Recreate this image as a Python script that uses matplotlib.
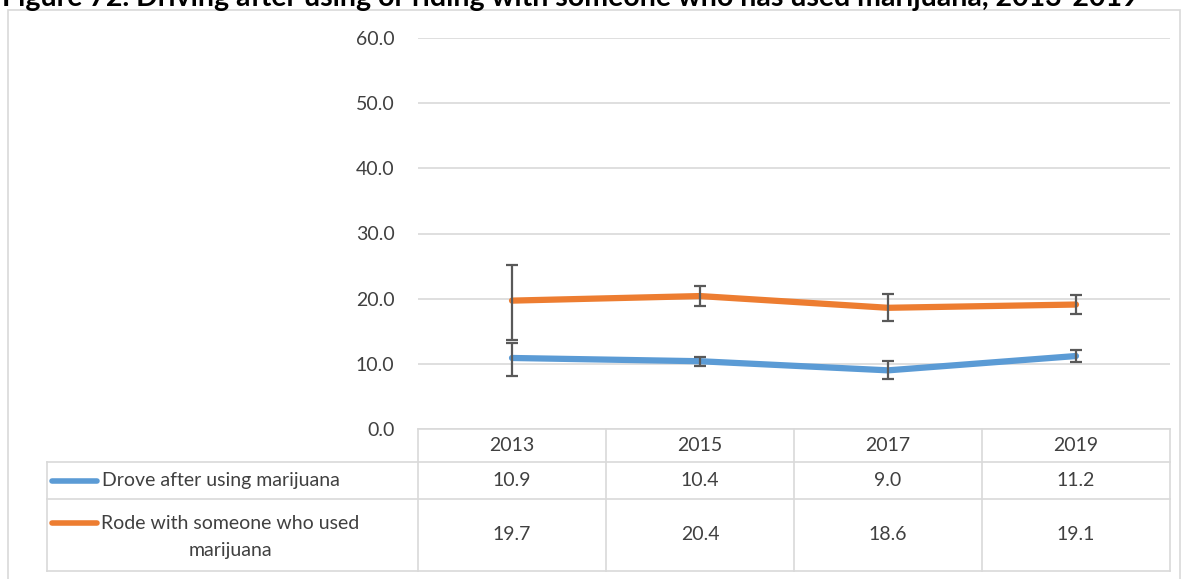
import matplotlib.pyplot as plt
from matplotlib.lines import Line2D
from matplotlib.patches import Rectangle

# data
years = ["2013", "2015", "2017", "2019"]
series_names = ["Drove after using marijuana", "Rode with someone who used\nmarijuana"]
drove = [10.9, 10.4, 9.0, 11.2]
rode = [19.7, 20.4, 18.6, 19.1]
drove_low = [8.2, 9.7, 7.6, 10.3]
drove_high = [13.2, 11.1, 10.4, 12.1]
rode_low = [13.7, 18.9, 16.5, 17.6]
rode_high = [25.2, 21.9, 20.7, 20.6]
yticks = [0, 10, 20, 30, 40, 50, 60]

blue = "#5B9BD5"
orange = "#ED7D31"
grid_c = "#D9D9D9"
text_c = "#404040"
fs = 14

plt.rcParams["font.family"] = ["Lato", "DejaVu Sans"]

W, H = 1191, 579
fig = plt.figure(figsize=(W / 100, H / 100), dpi=100)


def fx(px):
    return px / W


def fy(py):
    return 1 - py / H


# outer chart border
fig.patches.append(Rectangle((fx(8), fy(600)), fx(1180) - fx(8), fy(10) - fy(600),
                             transform=fig.transFigure, fill=False, ec=grid_c, lw=1.2))

# title, cut off at the top of the image
fig.text(fx(2), fy(6), "Figure 72. Driving after using or riding with someone who has used marijuana, 2013-2019",
         fontsize=20.5, fontweight="bold", color="black", va="baseline", ha="left")

# plot area
left, right, top, bottom = 418, 1170, 38, 429
ax = fig.add_axes([fx(left), fy(bottom), fx(right) - fx(left), fy(top) - fy(bottom)])
x = range(len(years))
ax.set_xlim(-0.5, len(years) - 0.5)
ax.set_ylim(0, 60)
ax.set_yticks(yticks)
ax.set_yticklabels([f"{v:.1f}" for v in yticks], fontsize=fs, color=text_c)
ax.tick_params(axis="y", length=0, pad=17)
ax.set_xticks([])
for s in ax.spines.values():
    s.set_visible(False)
ax.grid(axis="y", color=grid_c, lw=1.2)
ax.set_axisbelow(True)

ax.plot(x, drove, color=blue, lw=4.5, solid_capstyle="round", zorder=3)
ax.plot(x, rode, color=orange, lw=4.5, solid_capstyle="round", zorder=3)
ax.errorbar(x, drove, yerr=[[d - l for d, l in zip(drove, drove_low)],
                            [h - d for d, h in zip(drove, drove_high)]],
            fmt="none", ecolor="#595959", elinewidth=1.6, capsize=4.5, capthick=1.6, zorder=4)
ax.errorbar(x, rode, yerr=[[d - l for d, l in zip(rode, rode_low)],
                           [h - d for d, h in zip(rode, rode_high)]],
            fmt="none", ecolor="#595959", elinewidth=1.6, capsize=4.5, capthick=1.6, zorder=4)

# data table below the plot
col_w = (right - left) / len(years)
col_edges = [left + i * col_w for i in range(len(years) + 1)]
row_edges = [429, 462, 499, 571]
tleft = 47


def hline(x0, x1, y):
    fig.add_artist(Line2D([fx(x0), fx(x1)], [fy(y), fy(y)], color=grid_c, lw=1.2))


def vline(xp, y0, y1):
    fig.add_artist(Line2D([fx(xp), fx(xp)], [fy(y0), fy(y1)], color=grid_c, lw=1.2))


hline(left, right, row_edges[0])
for y in row_edges[1:]:
    hline(tleft, right, y)
for xp in col_edges:
    vline(xp, row_edges[0], row_edges[-1])
vline(tleft, row_edges[1], row_edges[-1])

for i, yr in enumerate(years):
    cx = (col_edges[i] + col_edges[i + 1]) / 2
    fig.text(fx(cx), fy((row_edges[0] + row_edges[1]) / 2), yr, ha="center", va="center",
             fontsize=fs, color=text_c)
    fig.text(fx(cx), fy((row_edges[1] + row_edges[2]) / 2), f"{drove[i]:.1f}", ha="center",
             va="center", fontsize=fs, color=text_c)
    fig.text(fx(cx), fy((row_edges[2] + row_edges[3]) / 2), f"{rode[i]:.1f}", ha="center",
             va="center", fontsize=fs, color=text_c)

# legend keys inside the row headers
y1 = (row_edges[1] + row_edges[2]) / 2
fig.add_artist(Line2D([fx(52), fx(97)], [fy(y1), fy(y1)], color=blue, lw=4,
                      solid_capstyle="round"))
fig.text(fx(102), fy(y1), series_names[0], ha="left", va="center", fontsize=fs, color=text_c)

y2 = (row_edges[2] + row_edges[3]) / 2
fig.add_artist(Line2D([fx(52), fx(97)], [fy(523), fy(523)], color=orange, lw=4,
                      solid_capstyle="round"))
fig.text(fx(230), fy(y2 + 2), series_names[1], ha="center", va="center", fontsize=fs,
         color=text_c, linespacing=1.65, multialignment="center")

fig.savefig("out.png", dpi=100)
